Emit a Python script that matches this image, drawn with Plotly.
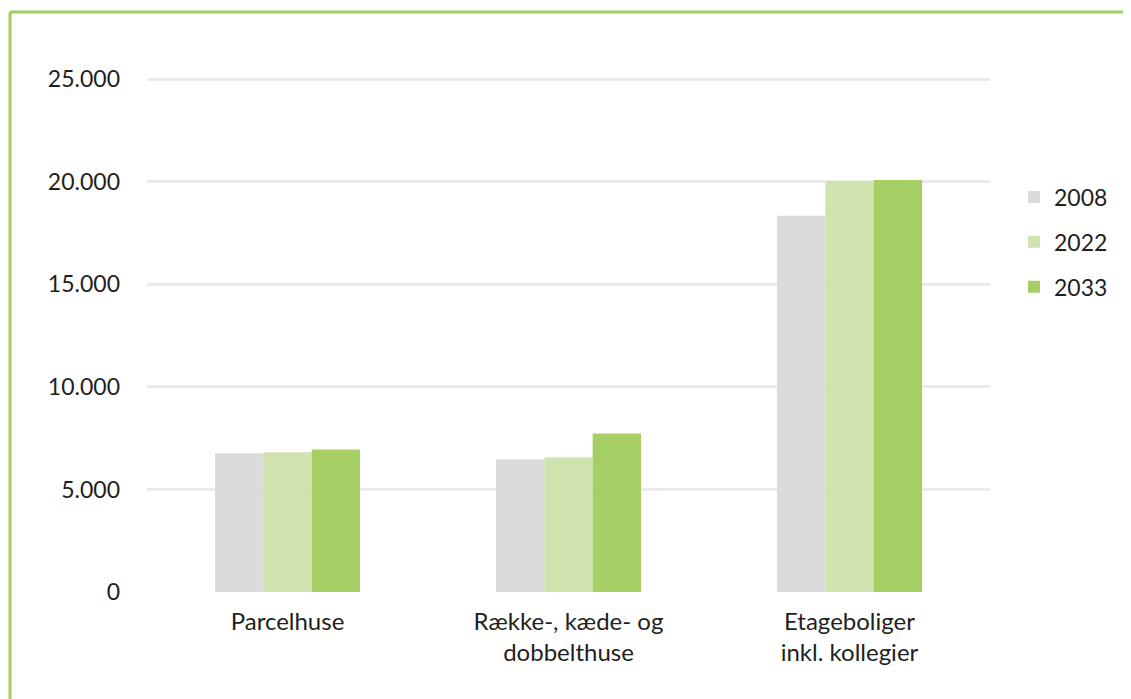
import plotly.graph_objects as go

categories = ["Parcelhuse", "Række-, kæde- og<br>dobbelthuse", "Etageboliger<br>inkl. kollegier"]
years = ["2008", "2022", "2033"]
values_2008 = [6760, 6470, 18340]
values_2022 = [6810, 6570, 20040]
values_2033 = [6950, 7730, 20090]
colors = ["#DADBDB", "#D0E3AF", "#A5CE64"]

# page body adds an 8px margin, so work in shifted pixel coordinates
OFF = 8
W, H = 1131 - OFF, 699 - OFF
L, T = 147 - OFF, 78 - OFF
pw, ph = 843, 514
R, B = W - L - pw, H - T - ph

fig = go.Figure()
for name, vals, col in zip(years, [values_2008, values_2022, values_2033], colors):
    fig.add_trace(go.Bar(x=categories, y=vals, name=name, marker_color=col,
                         marker_line_width=0, legendgroup=name))

# green frame at top and left
border = "#A2D05F"
fx = (10 - OFF - L) / pw
fy = 1 + (T - (12 - OFF)) / ph
fig.add_shape(type="line", xref="paper", yref="paper", x0=fx, x1=(W + 20 - L) / pw,
              y0=fy, y1=fy, line=dict(color=border, width=3))
fig.add_shape(type="line", xref="paper", yref="paper", x0=fx, x1=fx,
              y0=fy, y1=-(B + 20) / ph, line=dict(color=border, width=3))

fig.update_layout(
    width=W, height=H,
    margin=dict(l=L, r=R, t=T, b=B),
    paper_bgcolor="white", plot_bgcolor="white",
    barmode="group", bargap=0.484, bargroupgap=0,
    separators=",.",
    font=dict(family="Lato", size=23, color="#231F20"),
    legend=dict(x=(1014 - OFF - L) / pw, y=(592 - 242) / ph, xanchor="left", yanchor="middle",
                font=dict(size=23), tracegroupgap=12, itemsizing="constant",
                traceorder="grouped", bgcolor="rgba(0,0,0,0)"),
    showlegend=True,
)
fig.update_yaxes(range=[0, 25060], dtick=5000, tickformat=",", showgrid=True,
                 gridcolor="#EBEBEB", gridwidth=2.5, zeroline=False,
                 showline=False, ticklabelstandoff=26, tickfont=dict(size=23))
fig.update_xaxes(showline=False, showgrid=False, ticklabelstandoff=13,
                 tickfont=dict(size=24))

fig.write_html("out.html")
